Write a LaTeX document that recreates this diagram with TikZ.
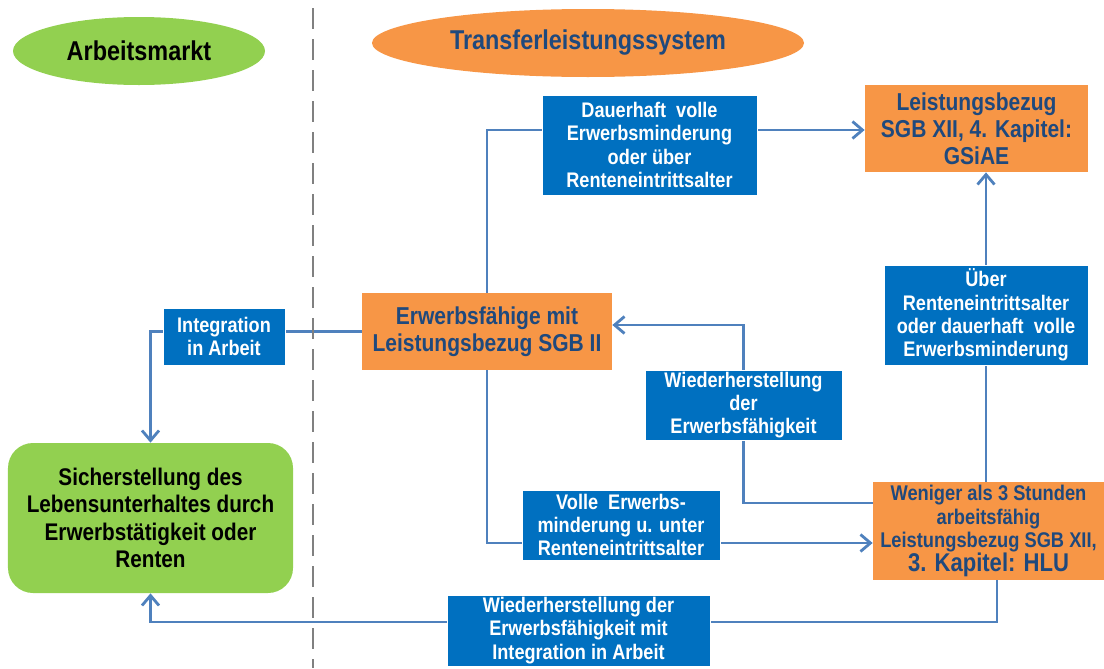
\documentclass[tikz,border=0pt]{standalone}
\usepackage{fontspec}
\setmainfont{Liberation Sans}[FakeStretch=0.86]
\usetikzlibrary{shapes.geometric, arrows.meta, calc, backgrounds}
\definecolor{marktgreen}{RGB}{146, 208, 80}
\definecolor{transorange}{RGB}{247, 150, 70}
\definecolor{labelblue}{RGB}{0, 112, 192}
\definecolor{linkblue}{RGB}{79, 129, 189}
\definecolor{titleblue}{RGB}{31, 73, 125}
\definecolor{dashgray}{RGB}{128, 128, 128}

\begin{document}
\begin{tikzpicture}[
    area/.style={ellipse, inner sep=0pt, font=\fontsize{15.5}{18}\selectfont\bfseries},
    system/.style={rectangle, fill=transorange, text=titleblue, align=center, inner sep=1pt, font=\fontsize{13.9}{15.4}\selectfont\bfseries},
    goal/.style={rectangle, rounded corners=0.5cm, fill=marktgreen, align=center, inner sep=1pt, font=\fontsize{13.7}{15.6}\selectfont\bfseries},
    transition/.style={rectangle, fill=labelblue, draw=white, thin, text=white, align=center, inner sep=1pt, font=\fontsize{12}{13.2}\selectfont\bfseries},
    arrow/.style={line width=1.6pt, draw=linkblue, -{Straight Barb[length=2mm, width=3.4mm]}},
    separator/.style={line width=1.2pt, draw=dashgray, dash pattern=on 0.42cm off 0.2cm}
]
\useasboundingbox (0,0) rectangle (22.08,-13.36);

% headings
\node (arbeit) [area, fill=marktgreen, minimum width=5.04cm, minimum height=1.36cm] at (2.78,-1.02) {Arbeitsmarkt};
\node (transfer) [area, fill=transorange, text=titleblue, minimum width=8.64cm, minimum height=1.36cm] at (11.76,-0.86) {Transferleistungssystem};

% states
\node (gsiae) [system, minimum width=4.46cm, minimum height=1.74cm] at (19.53,-2.57) {Leistungsbezug\\SGB XII, 4. Kapitel:\\GSiAE};
\node (erw) [system, minimum width=5.0cm, minimum height=1.54cm] at (9.74,-6.63) {Erwerbsfähige mit\\Leistungsbezug SGB II};
\node (weniger) [system, minimum width=4.62cm, minimum height=1.96cm, font=\fontsize{12.1}{13.6}\selectfont\bfseries] at (19.77,-10.62) {Weniger als 3 Stunden\\arbeitsfähig\\Leistungsbezug SGB XII,\\{\fontsize{14.6}{16}\selectfont 3. Kapitel: HLU}};
\node (sicher) [goal, minimum width=5.7cm, minimum height=3.0cm] at (3.01,-10.36) {Sicherstellung des\\Lebensunterhaltes durch\\Erwerbstätigkeit oder\\Renten};

% transitions
\node (dauer) [transition, minimum width=4.3cm, minimum height=2.0cm] at (12.99,-2.9) {Dauerhaft~~volle\\Erwerbsminderung\\oder über\\Renteneintrittsalter};
\node (integ) [transition, minimum width=2.44cm, minimum height=1.14cm] at (4.48,-6.73) {Integration\\in Arbeit};
\node (ueber) [transition, minimum width=4.08cm, minimum height=2.0cm] at (19.72,-6.3) {Über\\Renteneintrittsalter\\oder dauerhaft~~volle\\Erwerbsminderung};
\node (wieder) [transition, minimum width=3.94cm, minimum height=1.4cm] at (14.87,-8.1) {Wiederherstellung\\der\\Erwerbsfähigkeit};
\node (volle) [transition, minimum width=3.96cm, minimum height=1.4cm] at (12.42,-10.5) {Volle~~Erwerbs-\\minderung u. unter\\Renteneintrittsalter};
\node (wiederint) [transition, minimum width=5.26cm, minimum height=1.42cm] at (11.57,-12.61) {Wiederherstellung der\\Erwerbsfähigkeit mit\\Integration in Arbeit};

\begin{scope}[on background layer]
\draw [arrow] (erw.north) |- ($(gsiae.west)+(0,-0.03)$);
\draw [arrow] (erw.west) -| (sicher.north);
\draw [arrow] (erw.south) |- ($(weniger.west)+(0,-0.24)$);
\draw [arrow] ($(weniger.west)+(0,0.56)$) -| (wieder.center) |- ($(erw.east)+(0,0.13)$);
\draw [arrow] (ueber.center |- weniger.north) -- (ueber.center |- gsiae.south);
\draw [arrow] ($(weniger.south)+(0.17,0)$) |- ($(wiederint.center)+(0,0.17)$) -| (sicher.south);
\draw [separator] (6.26,-0.16) -- (6.26,-13.36);
\end{scope}

\end{tikzpicture}
\end{document}
